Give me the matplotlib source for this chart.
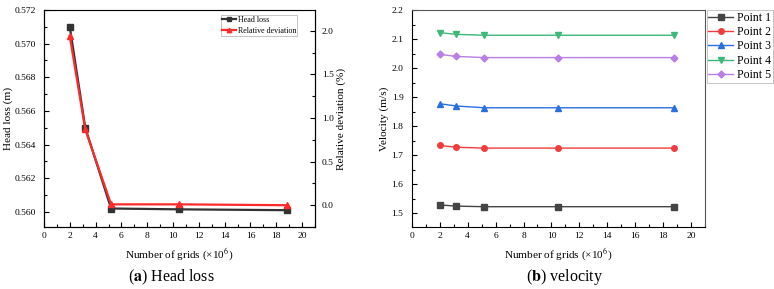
import matplotlib
matplotlib.use("Agg")
import matplotlib.pyplot as plt
from matplotlib.ticker import MultipleLocator, FormatStrFormatter

plt.rcParams["font.family"] = ["Liberation Serif", "DejaVu Serif"]
plt.rcParams["mathtext.fontset"] = "stix"

# grid counts (x10^6)
grids = [2.0, 3.2, 5.2, 10.5, 18.8]

# (a) head loss
head_loss = [0.5710, 0.5650, 0.5602, 0.56015, 0.5601]
rel_dev = [1.94, 0.87, 0.01, 0.01, 0.0]

# (b) velocity at monitor points
point_labels = ["Point 1", "Point 2", "Point 3", "Point 4", "Point 5"]
point_1 = [1.528, 1.524, 1.522, 1.522, 1.522]
point_2 = [1.733, 1.727, 1.724, 1.724, 1.724]
point_3 = [1.877, 1.869, 1.863, 1.863, 1.863]
point_4 = [2.122, 2.116, 2.113, 2.113, 2.113]
point_5 = [2.047, 2.040, 2.036, 2.036, 2.036]
velocities = [point_1, point_2, point_3, point_4, point_5]

colors = ["#444444", "#f03c3c", "#2a6fe0", "#3cb878", "#b87fe6"]
markers = ["s", "o", "^", "v", "D"]

fig = plt.figure(figsize=(7.74, 2.89), dpi=100)
ax1 = fig.add_axes([0.0568, 0.2145, 0.3502, 0.7509])
ax2 = ax1.twinx()
ax3 = fig.add_axes([0.532, 0.2145, 0.379, 0.7509])

tick_fs = 6.8
label_fs = 8.1


def style_ticks(ax, ypad=6, **kw):
    ax.tick_params(which="both", direction="in", labelsize=tick_fs, **kw)
    ax.tick_params(axis="x", pad=3.5)
    ax.tick_params(axis="y", pad=ypad)
    ax.tick_params(which="major", length=3.5, width=0.8)
    ax.tick_params(which="minor", length=2, width=0.8)


# ---- (a) ----
l1, = ax1.plot(grids, head_loss, color="#333333", marker="s", markersize=4,
               lw=1.6, zorder=3)
l2, = ax2.plot(grids, rel_dev, color="#ff2a2a", marker="^", markersize=4,
               lw=1.6, zorder=3)
ax1.set_xlim(0, 21)
ax1.set_ylim(0.5591, 0.572)
ax2.set_ylim(-0.25, 2.24)
ax1.xaxis.set_major_locator(MultipleLocator(2))
ax1.xaxis.set_minor_locator(MultipleLocator(1))
ax1.yaxis.set_major_locator(MultipleLocator(0.002))
ax1.yaxis.set_minor_locator(MultipleLocator(0.001))
ax1.yaxis.set_major_formatter(FormatStrFormatter("%.3f"))
ax2.yaxis.set_major_locator(MultipleLocator(0.5))
ax2.yaxis.set_minor_locator(MultipleLocator(0.25))
ax2.yaxis.set_major_formatter(FormatStrFormatter("%.1f"))
ax1.set_xlabel("Number of grids (×10$^6$)", fontsize=label_fs, labelpad=5)
ax1.set_ylabel("Head loss (m)", fontsize=label_fs, labelpad=1)
ax2.set_ylabel("Relative deviation (%)", fontsize=label_fs, labelpad=2)
style_ticks(ax1, right=False, top=False)
style_ticks(ax2, ypad=5)
ax1.spines["top"].set_color("#888888")
leg1 = ax1.legend([l1, l2], ["Head loss", "Relative deviation"],
                  loc="upper right", bbox_to_anchor=(0.934, 0.977),
                  fontsize=5.8, frameon=True, fancybox=False,
                  edgecolor="#aaaaaa", borderpad=0.15, handlelength=1.7,
                  handletextpad=0.25, labelspacing=0.3, borderaxespad=0.0,
                  markerscale=0.8)
leg1.get_frame().set_linewidth(0.6)

# ---- (b) ----
for vals, lab, c, m in zip(velocities, point_labels, colors, markers):
    ax3.plot(grids, vals, color=c, marker=m, markersize=4 if m != "D" else 3.5,
             lw=1.0, label=lab)
ax3.set_xlim(0, 21)
ax3.set_ylim(1.452, 2.2)
ax3.xaxis.set_major_locator(MultipleLocator(2))
ax3.xaxis.set_minor_locator(MultipleLocator(1))
ax3.yaxis.set_major_locator(MultipleLocator(0.1))
ax3.yaxis.set_minor_locator(MultipleLocator(0.05))
ax3.yaxis.set_major_formatter(FormatStrFormatter("%.1f"))
ax3.set_xlabel("Number of grids (×10$^6$)", fontsize=label_fs, labelpad=5)
ax3.set_ylabel("Velocity (m/s)", fontsize=label_fs, labelpad=2)
style_ticks(ax3, right=False, top=False)
for s in ["top", "right"]:
    ax3.spines[s].set_color("#555555")
leg3 = ax3.legend(loc="upper left", bbox_to_anchor=(1.005, 1.0), fontsize=8.5,
                  frameon=True, fancybox=False, edgecolor="#aaaaaa",
                  borderpad=0.15, handlelength=2.1, handletextpad=0.3,
                  labelspacing=0.2, borderaxespad=0.0)
leg3.get_frame().set_linewidth(0.6)

# captions
fig.text(0.222, 0.0415, r"($\mathbf{a}$) Head loss", ha="center", va="center",
         fontsize=11.5)
fig.text(0.730, 0.0415, r"($\mathbf{b}$) velocity", ha="center", va="center",
         fontsize=11.5)

fig.savefig("out.png", dpi=100)
